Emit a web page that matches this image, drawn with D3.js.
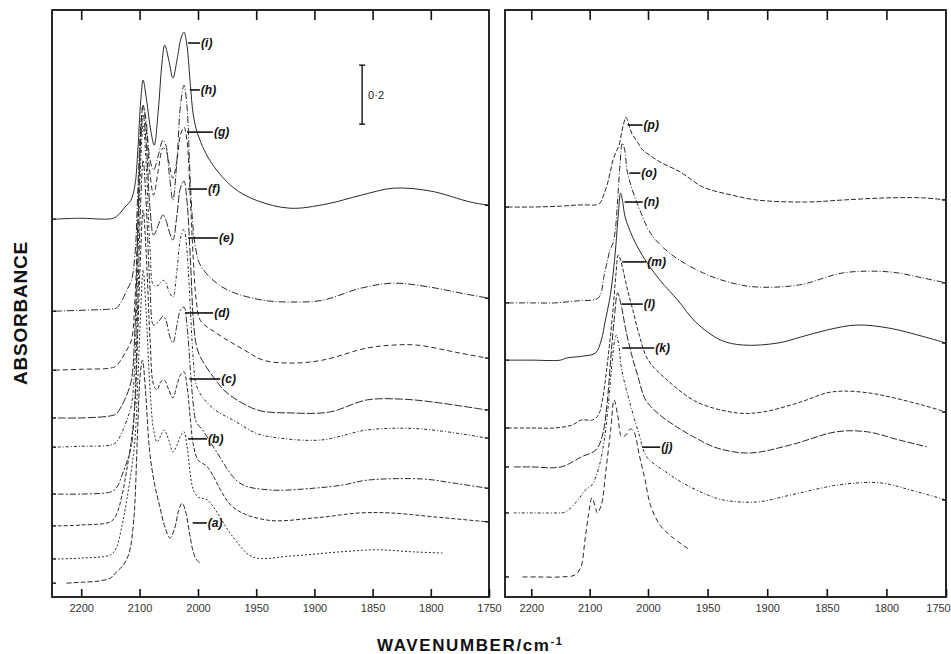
<!DOCTYPE html>
<html>
<head>
<meta charset="utf-8">
<script src="https://cdn.jsdelivr.net/npm/d3@7"></script>
<style>
  html, body { margin: 0; padding: 0; background: #fff; }
  svg { display: block; font-family: "Liberation Sans", Arial, sans-serif; }
  .frame { fill: none; stroke: #111; stroke-width: 1.8; }
  .spectrum { fill: none; stroke: #2a2a2a; stroke-width: 1; stroke-linejoin: round; }
  .axis .domain { display: none; }
  .axis line { stroke: #111; stroke-width: 1.6; }
  .axis text { font-size: 11px; fill: #333; font-family: "Liberation Sans Narrow", "Liberation Sans", sans-serif; }
  .edge-tick { stroke: #111; stroke-width: 1.4; }
  .pointer { stroke: #111; stroke-width: 1.6; }
  .tag { font-size: 12px; font-style: italic; font-weight: bold; fill: #111; }
  .bar { stroke: #111; stroke-width: 1.4; }
  .bar-label { font-size: 11px; fill: #222; }
  .axis-title { font-weight: bold; fill: #111; }
</style>
</head>
<body>
<svg id="chart" width="951" height="654"></svg>
<script>
// tick labels shared by both panels
const tickValues = [2200, 2100, 2000, 1950, 1900, 1850, 1800, 1750];

// left panel: spectra (a)-(i), [wavenumber, absorbance above own baseline]
const leftNames = ['(a)', '(b)', '(c)', '(d)', '(e)', '(f)', '(g)', '(h)', '(i)'];
const leftOffsets = [0.047, 0.129, 0.241, 0.349, 0.508, 0.607, 0.769, 0.969, 1.281];

const specA = [[2225,0],[2200,0.003],[2170,0.007],[2150,0.017],[2140,0.037],[2128,0.061],[2118,0.102],[2110,0.214],[2104,0.485],[2099,0.705],[2095,0.756],[2090,0.654],[2083,0.451],[2075,0.342],[2066,0.264],[2056,0.186],[2048,0.153],[2040,0.186],[2033,0.247],[2027,0.271],[2021,0.241],[2014,0.163],[2008,0.105],[2002,0.078],[1998,0.068]];
const specB = [[2240,0],[2200,0.003],[2150,0.014],[2140,0.037],[2130,0.115],[2122,0.200],[2114,0.302],[2108,0.403],[2103,0.607],[2098,0.844],[2094,0.980],[2089,0.844],[2082,0.573],[2076,0.437],[2070,0.397],[2064,0.417],[2058,0.437],[2050,0.403],[2043,0.363],[2036,0.386],[2030,0.417],[2024,0.431],[2019,0.386],[2013,0.285],[2008,0.234],[2000,0.210],[1992,0.200],[1970,0.075],[1953,0.007],[1920,0.010],[1878,0.024],[1846,0.031],[1815,0.024],[1790,0.020]];
const specC = [[2240,0],[2200,0.003],[2150,0.014],[2140,0.037],[2130,0.105],[2122,0.190],[2114,0.292],[2108,0.410],[2103,0.664],[2098,0.936],[2094,1.071],[2089,0.936],[2082,0.630],[2076,0.478],[2070,0.461],[2064,0.488],[2058,0.495],[2050,0.461],[2043,0.434],[2036,0.478],[2030,0.512],[2024,0.522],[2019,0.478],[2013,0.359],[2008,0.275],[2000,0.224],[1992,0.200],[1970,0.064],[1941,0.020],[1900,0.027],[1861,0.044],[1835,0.044],[1798,0.031],[1752,0.014]];
const specD = [[2240,0],[2200,0],[2150,0.007],[2140,0.020],[2130,0.064],[2122,0.108],[2114,0.166],[2108,0.319],[2103,0.658],[2098,0.997],[2094,1.132],[2089,0.997],[2082,0.692],[2076,0.573],[2068,0.583],[2060,0.603],[2055,0.590],[2049,0.539],[2043,0.512],[2036,0.573],[2030,0.624],[2024,0.634],[2019,0.573],[2013,0.420],[2008,0.302],[2003,0.244],[1996,0.217],[1985,0.149],[1964,0.037],[1938,0.014],[1900,0.020],[1875,0.031],[1855,0.047],[1807,0.051],[1780,0.037],[1752,0.020]];
const specE = [[2240,0],[2200,0.003],[2150,0.007],[2140,0.017],[2130,0.051],[2122,0.092],[2114,0.142],[2108,0.295],[2103,0.634],[2098,0.973],[2094,1.092],[2089,0.973],[2082,0.668],[2076,0.549],[2068,0.549],[2060,0.566],[2055,0.556],[2049,0.525],[2043,0.508],[2036,0.600],[2030,0.708],[2024,0.739],[2019,0.668],[2013,0.464],[2008,0.295],[2003,0.210],[1996,0.169],[1985,0.125],[1970,0.092],[1950,0.047],[1936,0.034],[1895,0.024],[1855,0.058],[1820,0.064],[1790,0.054],[1752,0.031]];
const specF = [[2240,0],[2200,0],[2150,0.007],[2140,0.014],[2130,0.044],[2122,0.078],[2114,0.129],[2108,0.298],[2103,0.637],[2098,0.942],[2094,1.027],[2089,0.942],[2082,0.705],[2076,0.620],[2068,0.654],[2060,0.688],[2055,0.671],[2049,0.630],[2043,0.603],[2036,0.688],[2030,0.780],[2024,0.803],[2019,0.739],[2013,0.536],[2008,0.333],[2003,0.248],[1998,0.207],[1985,0.129],[1975,0.085],[1949,0.027],[1920,0.017],[1887,0.020],[1855,0.061],[1826,0.064],[1798,0.054],[1752,0.027]];
const specG = [[2245,0],[2200,0.003],[2150,0.007],[2140,0.014],[2130,0.041],[2122,0.068],[2114,0.102],[2108,0.237],[2103,0.508],[2098,0.810],[2094,0.898],[2089,0.827],[2082,0.661],[2076,0.593],[2068,0.678],[2060,0.753],[2055,0.746],[2049,0.695],[2043,0.651],[2036,0.712],[2030,0.797],[2024,0.824],[2019,0.780],[2013,0.576],[2008,0.373],[2003,0.237],[1998,0.169],[1984,0.125],[1960,0.068],[1944,0.034],[1920,0.024],[1893,0.034],[1855,0.075],[1832,0.085],[1812,0.085],[1775,0.058],[1752,0.041]];
const specH = [[2245,0],[2200,0.003],[2150,0.007],[2140,0.010],[2130,0.037],[2122,0.071],[2114,0.105],[2108,0.190],[2103,0.410],[2098,0.631],[2094,0.698],[2089,0.647],[2082,0.512],[2076,0.478],[2068,0.529],[2060,0.580],[2055,0.563],[2049,0.461],[2043,0.376],[2036,0.512],[2030,0.698],[2024,0.766],[2019,0.698],[2014,0.478],[2010,0.325],[2005,0.224],[1998,0.156],[1984,0.095],[1970,0.064],[1944,0.037],[1920,0.031],[1893,0.037],[1860,0.078],[1832,0.095],[1800,0.081],[1770,0.058],[1750,0.044]];
const specI = [[2245,0],[2200,0.003],[2160,0],[2145,0.003],[2135,0.017],[2125,0.041],[2115,0.064],[2108,0.115],[2103,0.234],[2098,0.403],[2094,0.471],[2088,0.403],[2081,0.302],[2075,0.251],[2068,0.369],[2062,0.522],[2057,0.590],[2050,0.539],[2043,0.478],[2036,0.539],[2029,0.614],[2024,0.634],[2019,0.590],[2013,0.454],[2008,0.353],[2001,0.292],[1990,0.200],[1970,0.108],[1950,0.064],[1921,0.037],[1890,0.051],[1860,0.081],[1832,0.105],[1800,0.095],[1766,0.058],[1750,0.047]];
const leftSeries = [specA, specB, specC, specD, specE, specF, specG, specH, specI];

// right panel: spectra (j)-(p)
const rightNames = ['(j)', '(k)', '(l)', '(m)', '(n)', '(o)', '(p)'];
const rightOffsets = [0.068, 0.285, 0.441, 0.573, 0.803, 0.997, 1.322];

const specJ = [[2215,0],[2190,0],[2150,0],[2125,0.007],[2115,0.034],[2108,0.125],[2102,0.210],[2096,0.268],[2090,0.234],[2087,0.217],[2080,0.244],[2072,0.363],[2064,0.498],[2058,0.600],[2052,0.549],[2045,0.475],[2038,0.481],[2030,0.502],[2024,0.492],[2015,0.414],[2005,0.329],[1998,0.244],[1990,0.176],[1980,0.136],[1965,0.092]];
const specK = [[2230,0],[2200,0],[2160,0],[2142,0.003],[2120,0.044],[2107,0.078],[2096,0.095],[2084,0.156],[2075,0.247],[2068,0.366],[2062,0.502],[2057,0.586],[2054,0.603],[2050,0.569],[2045,0.485],[2030,0.366],[2015,0.264],[2002,0.190],[1985,0.139],[1971,0.102],[1950,0.061],[1937,0.044],[1909,0.037],[1880,0.061],[1840,0.095],[1805,0.102],[1780,0.078],[1750,0.044]];
const specL = [[2230,0],[2200,0],[2149,0],[2114,0.034],[2089,0.058],[2078,0.108],[2070,0.217],[2064,0.363],[2058,0.498],[2052,0.590],[2046,0.549],[2038,0.464],[2028,0.380],[2018,0.312],[2004,0.227],[1990,0.176],[1976,0.136],[1960,0.098],[1942,0.064],[1915,0.047],[1880,0.075],[1842,0.119],[1816,0.119],[1790,0.092],[1766,0.068]];
const specM = [[2240,0],[2200,0],[2160,0],[2130,0.010],[2114,0.027],[2095,0.027],[2085,0.044],[2078,0.095],[2072,0.180],[2066,0.281],[2060,0.400],[2055,0.519],[2051,0.586],[2047,0.569],[2042,0.529],[2035,0.468],[2026,0.400],[2015,0.315],[2000,0.231],[1984,0.163],[1959,0.088],[1925,0.051],[1904,0.054],[1872,0.088],[1850,0.119],[1836,0.125],[1815,0.119],[1797,0.105],[1770,0.078],[1750,0.054]];
const specN = [[2240,0],[2200,0],[2150,0],[2140,0.007],[2110,0.014],[2090,0.024],[2080,0.068],[2073,0.136],[2066,0.203],[2060,0.288],[2055,0.390],[2051,0.492],[2047,0.566],[2043,0.532],[2040,0.492],[2030,0.434],[2010,0.356],[1990,0.271],[1975,0.203],[1960,0.129],[1939,0.068],[1920,0.051],[1891,0.058],[1872,0.078],[1850,0.102],[1825,0.119],[1797,0.108],[1770,0.081],[1750,0.058]];
const specO = [[2240,0],[2200,0],[2160,0],[2120,0.007],[2095,0.010],[2085,0.017],[2080,0.037],[2075,0.095],[2070,0.139],[2065,0.180],[2060,0.203],[2056,0.247],[2052,0.349],[2048,0.468],[2044,0.542],[2040,0.519],[2036,0.451],[2032,0.417],[2024,0.366],[2014,0.315],[1998,0.237],[1982,0.169],[1954,0.102],[1930,0.068],[1909,0.054],[1873,0.061],[1836,0.102],[1797,0.105],[1770,0.085],[1750,0.068]];
const specP = [[2240,0],[2200,0],[2150,0.003],[2120,0.007],[2100,0.007],[2090,0.007],[2082,0.014],[2076,0.041],[2070,0.075],[2064,0.125],[2060,0.159],[2055,0.186],[2050,0.207],[2045,0.254],[2041,0.288],[2038,0.305],[2034,0.288],[2028,0.251],[2018,0.220],[2009,0.193],[2000,0.180],[1990,0.153],[1973,0.119],[1954,0.068],[1930,0.041],[1909,0.024],[1867,0.017],[1836,0.024],[1800,0.031],[1769,0.031],[1750,0.024]];
const rightSeries = [specJ, specK, specL, specM, specN, specO, specP];

// where each label pointer starts: wavenumber and stacked absorbance
const leftTagWn = [2009, 2017, 2015, 2022, 2017, 2017, 2019, 2014, 2017];
const leftTagAbs = [0.251, 0.536, 0.739, 0.963, 1.217, 1.383, 1.576, 1.719, 1.878];
const rightTagWn = [2010, 2044, 2045, 2044, 2040, 2032, 2035];
const rightTagAbs = [0.508, 0.844, 0.993, 1.136, 1.339, 1.437, 1.600];

// 0.2 absorbance scale bar
const barWn = 1859;
const barAbs = [1.603, 1.803];

class SpectraFigure {
    constructor() {
        this.svg = d3.select('#chart');
        this.top = 10;
        this.bottom = 597;

        this.y = d3.scaleLinear().domain([0, 1.99]).range([this.bottom, this.top]);

        // the grating change at 2000 cm-1 doubles the x scale
        this.panels = [
            {
                x: d3.scaleLinear().domain([2250, 2000, 1750]).range([52, 198, 489]),
                left: 52, right: 489, lastLabelShift: 0,
                names: leftNames, offsets: leftOffsets, series: leftSeries,
                tagWn: leftTagWn, tagAbs: leftTagAbs,
                pointerLen: [14, 19, 31, 28, 30, 19, 26, 10, 12],
                dashes: ['5,2', '2,2', '4,2', '6,2,2,2', '3,2,1,2', '8,2', '5,3', '7,2,1,2', null],
                widths: [1, 1, 1, 1, 1, 1, 1, 1.1, 1.5]
            },
            {
                x: d3.scaleLinear().domain([2245, 2000, 1750]).range([505, 648, 946]),
                left: 505, right: 946, lastLabelShift: -8,
                names: rightNames, offsets: rightOffsets, series: rightSeries,
                tagWn: rightTagWn, tagAbs: rightTagAbs,
                pointerLen: [18, 32, 21, 24, 18, 11, 15],
                dashes: ['5,3', '3,2,1,2', '7,2', '4,2', null, '6,2,1,2', '5,2'],
                widths: [1, 1, 1, 1, 1.2, 1, 1]
            }
        ];

        this.panels.forEach(p => this.drawPanel(p));
        this.drawScaleBar();
        this.drawTitles();
    }

    drawPanel(p) {
        const g = this.svg.append('g');
        const line = d3.line()
            .x(d => p.x(d[0]))
            .curve(d3.curveCatmullRom.alpha(0.5));

        // spectra, each lifted by its own baseline
        p.series.forEach((s, i) => {
            g.append('path')
                .attr('class', 'spectrum')
                .attr('d', line.y(d => this.y(p.offsets[i] + d[1]))(s))
                .attr('stroke-dasharray', p.dashes[i])
                .attr('stroke-width', p.widths[i]);
        });

        // bottom and top axes, ticks pointing inward
        const bottomAxis = g.append('g')
            .attr('class', 'axis')
            .attr('transform', `translate(0,${this.bottom})`)
            .call(d3.axisBottom(p.x).tickValues(tickValues).tickSize(-8).tickPadding(7).tickFormat(d3.format('d')));
        bottomAxis.selectAll('.tick text')
            .filter(d => d === 1750)
            .attr('dx', p.lastLabelShift);

        g.append('g')
            .attr('class', 'axis')
            .attr('transform', `translate(0,${this.top})`)
            .call(d3.axisTop(p.x).tickValues(tickValues.slice(0, -1)).tickSize(-10).tickFormat(''));

        g.append('rect')
            .attr('class', 'frame')
            .attr('x', p.left)
            .attr('y', this.top)
            .attr('width', p.right - p.left)
            .attr('height', this.bottom - this.top);

        // small marks on the frame where each trace starts and ends
        p.offsets.forEach((o, i) => {
            const s = p.series[i];
            g.append('line')
                .attr('class', 'edge-tick')
                .attr('x1', p.left).attr('x2', p.left + 4)
                .attr('y1', this.y(o)).attr('y2', this.y(o));
            const last = s[s.length - 1];
            if (last[0] <= 1752) {
                g.append('line')
                    .attr('class', 'edge-tick')
                    .attr('x1', p.right - 4).attr('x2', p.right)
                    .attr('y1', this.y(o + last[1])).attr('y2', this.y(o + last[1]));
            }
        });

        // labels with pointers
        p.names.forEach((name, i) => {
            const x0 = p.x(p.tagWn[i]);
            const yy = this.y(p.tagAbs[i]);
            const x1 = x0 + p.pointerLen[i];
            g.append('line')
                .attr('class', 'pointer')
                .attr('x1', x0).attr('x2', x1)
                .attr('y1', yy).attr('y2', yy);
            g.append('text')
                .attr('class', 'tag')
                .attr('x', x1 + 1)
                .attr('y', yy + 4)
                .text(name);
        });
    }

    drawScaleBar() {
        const x = this.panels[0].x(barWn);
        const y0 = this.y(barAbs[0]);
        const y1 = this.y(barAbs[1]);
        const g = this.svg.append('g');
        g.append('line').attr('class', 'bar').attr('x1', x).attr('x2', x).attr('y1', y0).attr('y2', y1);
        g.append('line').attr('class', 'bar').attr('x1', x - 3).attr('x2', x + 3).attr('y1', y0).attr('y2', y0);
        g.append('line').attr('class', 'bar').attr('x1', x - 3).attr('x2', x + 3).attr('y1', y1).attr('y2', y1);
        g.append('text')
            .attr('class', 'bar-label')
            .attr('x', x + 6)
            .attr('y', (y0 + y1) / 2 + 4)
            .text('0\u00b72');
    }

    drawTitles() {
        this.svg.append('text')
            .attr('class', 'axis-title')
            .attr('transform', 'translate(27,313) rotate(-90)')
            .attr('text-anchor', 'middle')
            .style('font-size', '19px')
            .style('letter-spacing', '0.8px')
            .text('ABSORBANCE');

        const t = this.svg.append('text')
            .attr('class', 'axis-title')
            .attr('x', 377)
            .attr('y', 651)
            .style('font-size', '17px')
            .style('letter-spacing', '1.6px');
        t.append('tspan').text('WAVENUMBER/cm');
        t.append('tspan')
            .attr('dy', -6)
            .style('font-size', '11px')
            .text('-1');
    }
}

document.addEventListener('DOMContentLoaded', () => {
    window.spectraFigure = new SpectraFigure();
});
</script>
</body>
</html>
